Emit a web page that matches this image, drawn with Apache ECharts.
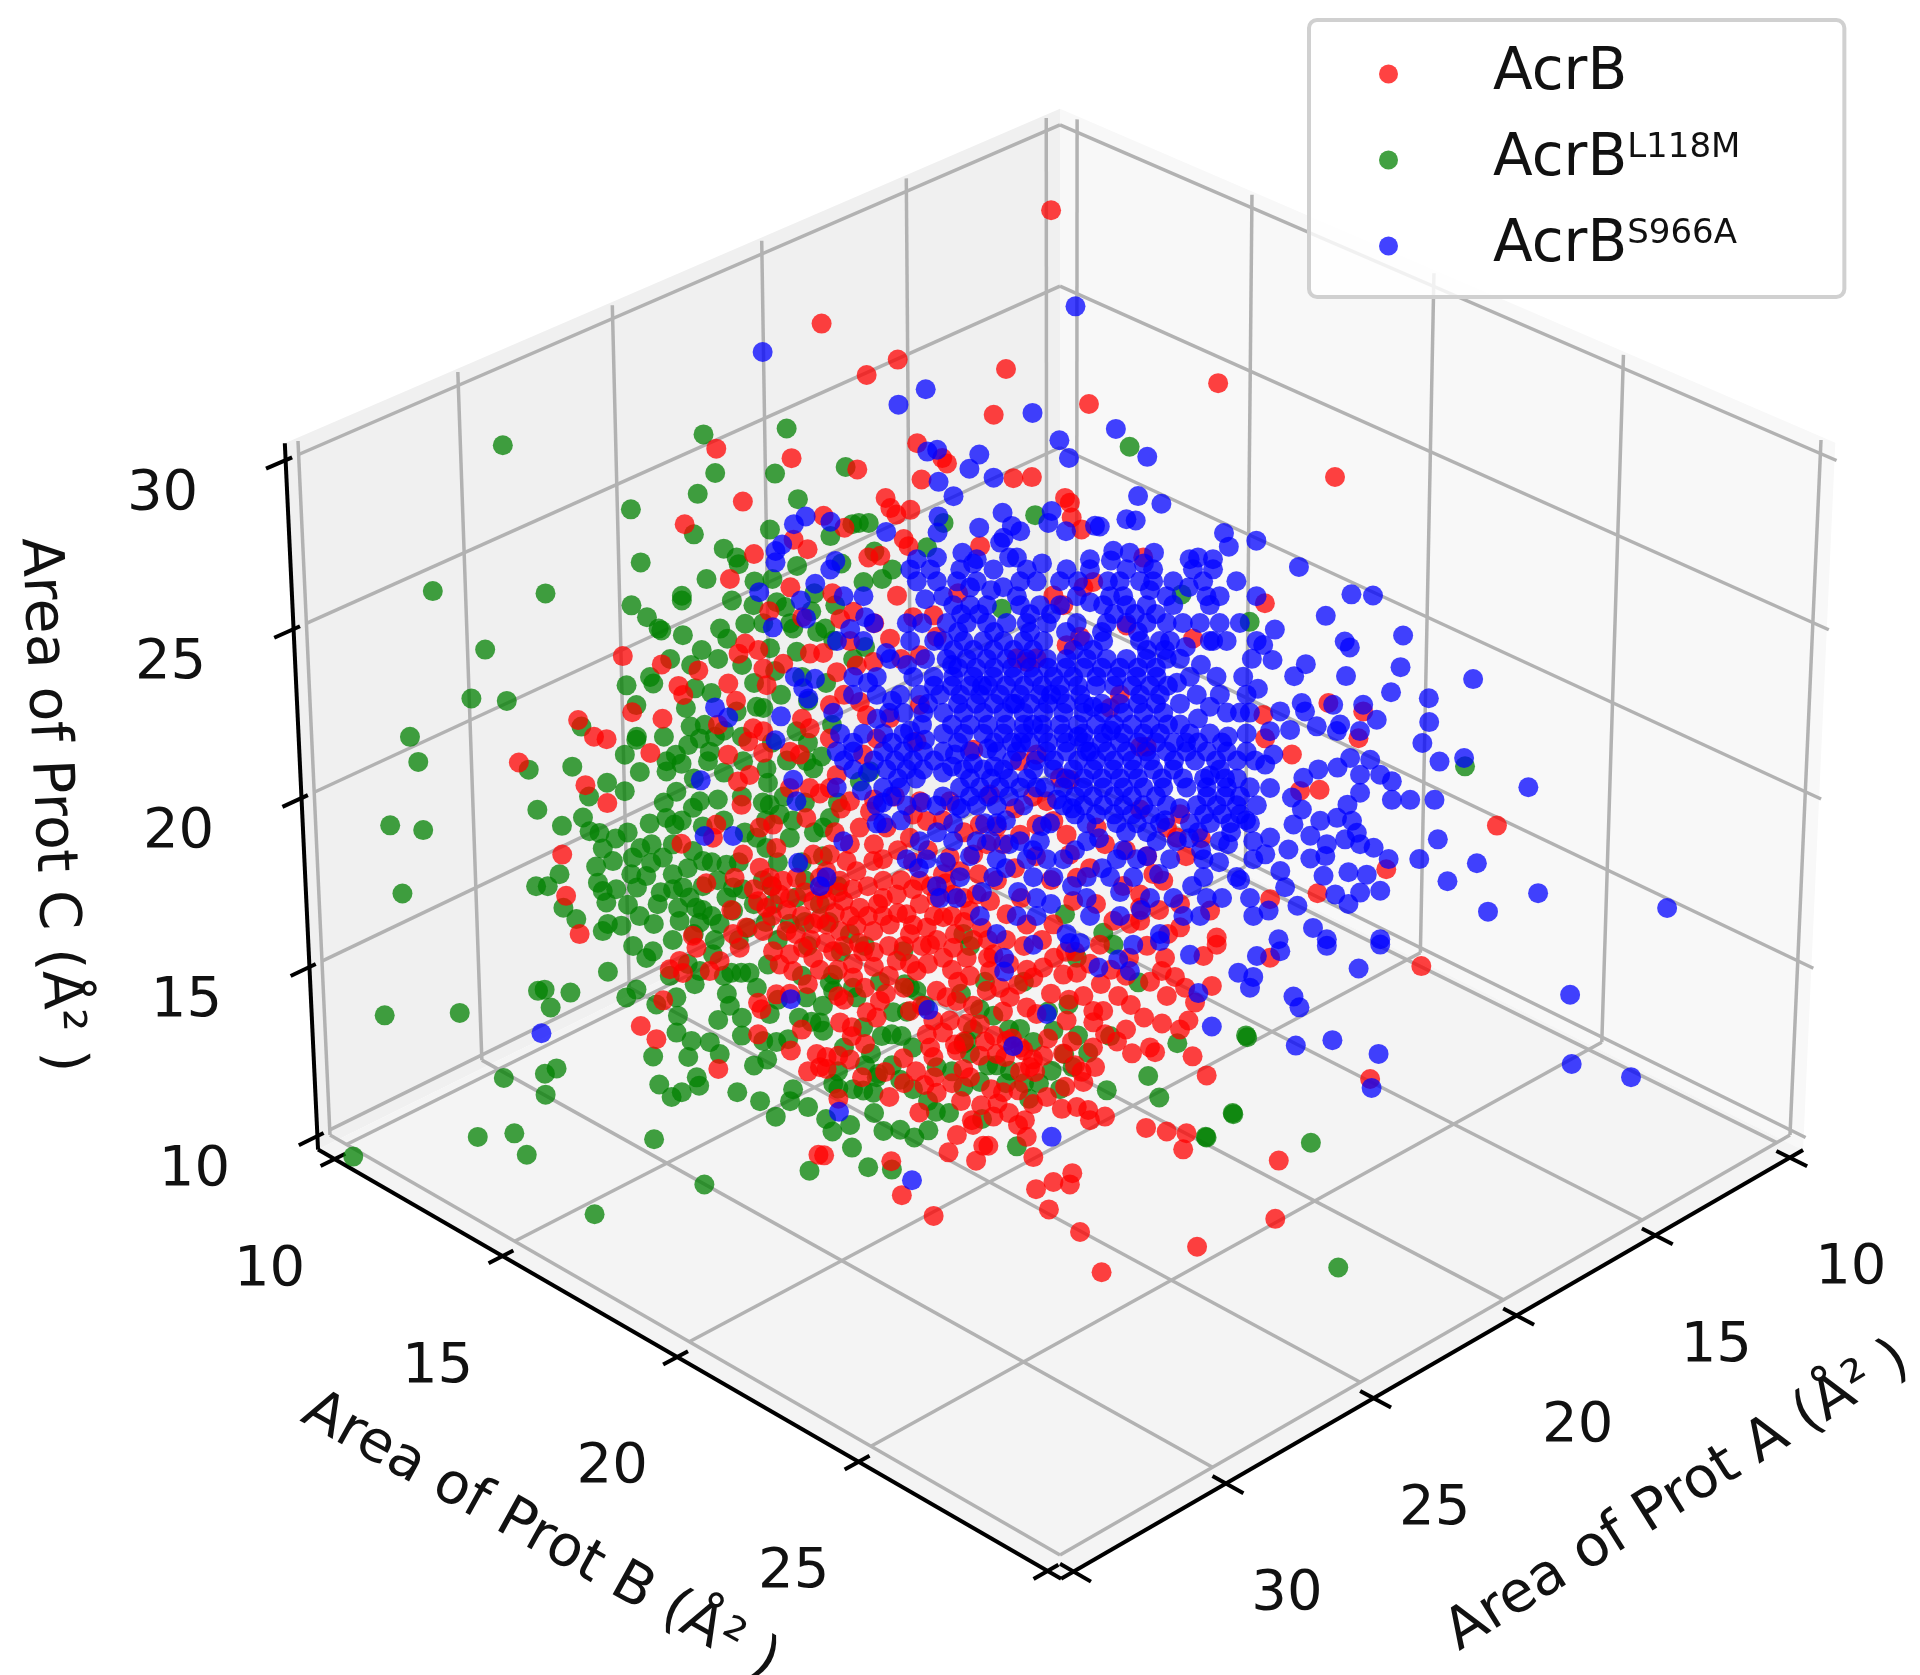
<!DOCTYPE html>
<html><head><meta charset="utf-8"><style>html,body{margin:0;background:#fff}#c{width:1920px;height:1675px}</style>
<script src="https://cdn.jsdelivr.net/npm/echarts@6/dist/echarts.min.js"></script></head><body><div id="c"></div>
<script>
// The picture is a single 3-D projection, so only two numbers can be read per point:
// [sideways position across the view in Å² (B-A direction), Prot C area in Å²].
// Depth along the line of sight is not recoverable; points sit on one surface facing the viewer.
const acrbL118M=[[-18.64,25.89],[-20.93,23.44],[-17.17,23.4],[-19.17,22.46],[-19.62,21.64],[-18.44,21.6],[-21.66,21],[-21.38,20.58],[-22.31,19.52],[-21.21,19.44],[-21.9,18.38],[-22.5,16.34],[-20,16.38],[-23.58,13.97],[-19.42,14.3],[-18.2,14.36],[-17.79,14],[-15.54,13],[-11.87,13.5],[-13.54,14.26],[-8.36,13.73],[-6.4,13.79],[9.3,12.1],[8.37,14.2],[4.86,14.3],[5.76,14.7],[6.2,16],[13.5,20.5],[2.33,25.86],
[-9.15,26.17],[-11.93,26.07],[-11.53,25.42],[-9.53,25.41],[-12.11,25.07],[-14.34,24.81],[-8.76,24.98],[-12.23,24.39],[-9.69,24.47],[-11.23,24.15],[-14,23.92],[-10.8,24],
[-14.3,23.2],[-13.78,23],[-13.39,22.81],[-13.3,22.78],[-12.58,22.7],[-11.95,22.45],[-11.8,23.64],[-12.62,23.36],[-12.62,23.28],[-10.95,23.28],[-11.34,22.81],[-11.1,22.64],[-10.5,22.89],[-10.73,23.89],[-9.45,23.25],[-9.17,23.17],[-10.23,23.2],[-9.6,23.64],[-8.78,23.86],[-8.9,22.81],[-8.1,22.75],[-9.67,22.48],[-8.78,22.42],[-14.45,21.86],[-13.67,22],[-13.56,21.89],[-14.12,21.53],[-12.17,21.81],[-11.62,21.73],[-12.47,21.48],[-10.78,21.42],[-10.11,21.5],[-9.89,21.48],[-13.2,21],[-14.1,21],[-14.12,20.95],[-12.31,21.17],[-11.84,21.2],[-11.5,21],[-12.39,20.86],[-12,20.97],[-11.67,20.75],[-11.73,20.59],[-14.5,20.7],[-13.11,20.59],[-12.61,20.55],[-13.11,20.42],[-14,20.41],[-16.25,20.5],[-17.7,20.45],[-15.95,21.17],[-15.09,20.23],[-14.5,20.09],[-15.69,20],[-12.78,20.08],[-12.23,19.81],[-11.4,19.95],[-12,19.92],[-10.56,20.59],[-9.78,20.47],[-9.73,20.23],[-8.45,20.59],[-8.22,20.47],[-8.78,21.09],[-17.41,19.78],[-16.59,19.51],[-15.89,19.65],[-15.67,19.42],[-15.34,19.39],[-13.67,19.55],[-13.11,19.64],[-12.84,19.53],[-15.23,19.13],[-14.89,18.92],[-15.45,18.83],[-14.23,18.98],[-13.98,19.14],[-13.23,18.98],[-13.62,18.89],[-14.28,18.7],[-13.78,18.67],[-16.67,18.7],[-17.45,18.5],[-17.06,18.5],[-15.39,18.56],[-15.23,18.42],[-14.78,18.45],[-14.09,18.48],[-15.11,18.23],[-14.39,18.19],[-16.54,18.14],[-16.11,17.95],[-13.53,17.87],[-15.06,17.87],[-15.23,17.75],[-14.61,17.84],[-11.89,18.92],[-12.23,19.09],[-11.11,18.86],[-12.56,18.48],[-12.89,18.45],[-12.34,18.31],[-12.72,18.14],[-12.12,18.14],[-12.67,17.92],[-12,17.89],[-10.89,18.48],[-10.56,18.45],[-11.11,18.31],[-10.89,18.09],[-11.34,17.87],[-10.11,19.31],[-9.67,19.86],[-9,19.31],[-9.34,19.7],[-9.78,19.14],[-8.78,18.31],[-9,17.87],[-9.56,18.2],
[-15.06,17.07],[-17.17,16.77],[-17.39,16.75],[-16.31,16.72],[-16.97,16.47],[-14.45,16.64],[-14.11,16.77],[-13.78,17.3],[-13.56,17.41],[-14.22,17.5],[-13.45,16.52],[-12.78,16.64],[-12.73,16.33],[-11.39,16.26],[-12.78,16.05],[-12.28,15.91],[-11.67,15.89],[-11.34,15.69],[-12.39,15.64],[-13.56,15.65],[-12.11,15.3],[-12.03,15.16],[-12.61,15.05],[-12.95,14.97],[-13.36,15.18],[-10.76,15.05],[-9.48,14.64],[-9.76,15.6],[-9.89,15.91],[-9.45,15.89],[-9.06,15.94],[-9.67,16.36],[-8.28,16.23],[-8,16.22],[-10.95,17.05],[-10.62,17.05],[-10.34,17.05],[-12.17,16.86],[-12,17.08],[-11.56,17.36],[-9.73,17.19],[-8.45,16.64],[-18.54,15.29],[-16.78,15.45],[-17.17,15.36],[-17.15,15.01],
[-6.94,14.12],[-7.59,14.39],[-5.61,13.75],[-5.89,14.4],[-5.33,14.42],[-4.86,14.29],[-4.39,14.41],[-4.14,14.72],[-6.56,15.08],[-6.22,15.04],[-5.33,15.26],[-6.06,15.36],[-6.11,15.3],[-7.56,15.19],[-7.39,15.11],[-4.11,15.47],[-3.22,15.14],[-2.67,15.22],[-2.11,15.5],[-1.67,15.41],[-1.03,14.94],[-1.44,14.14],[-0.28,15.41],[0.14,15.69],[0.42,15.47],[0.94,15.71],[1.56,15.08],[2.94,15.32],[3.31,14.96],[3.91,15.87],[5.78,14.68],[4.89,14.29],[6.24,15.97],[2.61,16.89],[1.67,15.99],[0.28,16.52],[-0.22,16.08],[-1.33,16.11],[-0.89,15.89],[-2.22,16.33],[-2.67,16.44],[-3.11,15.91],[-3.22,15.86],[-5.61,16.02],[-5.94,15.99],[-5.28,15.99],[-5.56,16.39],[-6.56,16.14],[-7.67,16.89],[-7.56,17.02],[-7.56,16.75],[-6.78,16.64],[-5,16.8],[-4.78,16.75],[-5.17,16.86],[0.56,17.3],[1.78,17.52],[-3,17.5],[-5.22,17.41],[-7.89,16.08],
[-7.17,25.52],[-6.94,24.56],[-6.72,24.58],[-6.39,24.58],[-7.67,24.36],[-4.44,24.17],[-3.89,24.58],[-0.83,24.71],
[-5.94,23.64],[-6.56,23.59],[4.06,23.38],[-1.94,23.14],[-7.83,22.81],[-7.56,22.61],[-7.94,20.67],[-6.33,20.42],[-6.67,20.25],[-7.89,19.48],[-7.67,19.64],[1.44,17.72],[0.17,18.03],[-3.22,17.7],[6.33,22.92],
[-13,22.3],[-12.3,22.2],[-11.4,22.3],[-10.6,22.2],[-9.5,22.1],[-8.6,22],[-10.2,21.9],[-9.3,21.7],[-8.4,21.6],[-7.8,21.9],[-11.2,21.1],[-10.6,21],[-9.6,20.9],[-9.1,20.6],[-8.4,20.9],[-7.6,21.2],[-12.8,20.7],[-12.2,20.3],[-11.2,20.4],[-10.6,20],[-9.9,19.9],[-9.2,20],[-8.5,19.9],[-7.4,19.9],[-13.2,19.9],[-12.6,19.6],[-11.9,19.5],[-11.2,19.6],[-10.5,19.4],[-9.8,19.6],[-8.9,19.6],[-8.2,19.4],[-14.8,19.3],[-14.4,19.4],[-13.6,19.2],[-12.9,19.2],[-12.4,18.8],[-11.6,18.9],[-10.7,18.9],[-9.9,18.6],[-9.4,18.9],[-8.6,18.9],[-7.9,19],[-13.3,18.4],[-12.9,18.7],[-11.9,18.5],[-11.4,18.6],[-10.2,18.2],[-9.6,18.5],[-8.5,18.6],[-8,18.2],[-7.4,18.5],[-14,18],[-13.4,18.2],[-11.9,18.1],[-11.6,18],[-10.4,17.8],[-9.8,17.9],[-8.5,17.9],[-7.7,17.9],[-7,17.7],[-12.9,17.6],[-12.2,17.7],[-11.5,17.6],[-10.7,17.6],[-9.4,17.6],[-8.4,17.5],[-7.3,17.4],[-6.5,17.5],[-13,17],[-12.4,17.2],[-11.2,17],[-10.1,16.8],[-9.4,16.6],[-8.6,17],[-7.9,16.5],[-6.9,16.8],[-6,16.9],[-5.1,16.4],[-4.5,16.5],[-3.3,16.7],[-2.5,16.9],[-1.2,16.9],[-11,16.5],[-10.6,16],[-8.7,16.3],[-7.2,15.8],[-6.5,15.5],[-4.9,15.8],[-3.6,15.4],[-1.7,16.1],[-0.4,16.4],[0.6,16],[-2.9,16.1],
[-7.4,15.4],[-6.9,15.1],[-6.3,15.7],[-5.6,15.5],[-4.9,15.1],[-4.4,14.9],[-3.7,14.7],[-3,15.7],[-2.4,15.5],[-1.8,15.2],[-1.2,15.2],[-0.7,15.2],[0,15.1],[-2.6,14.6],[-8.9,15.1],[-8.4,14.8],[-7.8,14.6],[-10.2,15.5],[-10.6,16.3],[-11.1,16.7],[-9,14.9],[-7,14.5],[-6.2,14.7],[-10,14.9],[-10.2,23.6],[-9.9,22.9],[-9,22.9],[-8.3,23.1],[-7.5,23.2],[-6.9,22.3],[-6.5,22.5],[-8.2,23.4],[-7.3,23.9],[-6.2,24.1],[-5.6,23.8]];

const acrb=[[-0.3,29.86],[-8,27.94],[-5.44,27.33],[-6.48,27.07],[-1.81,27.17],[-2.22,26.4],[0.97,26.58],[5.3,26.93],[-4.78,25.92],[-3.78,25.58],[-3.94,25.67],[-6.78,25.48],[-4.63,25.31],[-1.56,25.33],[-0.94,25.35],[-5.83,25],[-5.67,24.83],[-5.47,24.72],[0.17,25],[0.33,24.92],[0.39,24.67],[0.72,24.47],[-5.22,24.31],[-5.06,24.19],[-6,24.03],[-2.67,24.19],[2.78,24],[9.2,25.35],
[-11.5,25.83],[-8.98,25.67],[-10.6,24.94],[-12.54,24.56],[-10.22,24.06],[-8.43,24.14],
[-11.02,23.64],[-9,23.5],[-14.58,22.35],[-13.28,22.21],[-12.06,22.11],[-11.06,21.89],[-12.72,21.85],[-12.56,21.7],[-14.26,21.41],[-13.25,21.3],[-16.06,21.28],[-15.53,21],[-15.11,20.96],[-13.65,20.73],[-18.03,20.57],[-15.81,20.19],[-15.08,19.89],[-10.5,22.56],[-10.72,22.39],[-10.06,22.45],[-9.89,22.14],[-9.78,21.86],[-8.34,22.39],[-9.23,22.22],[-10.23,21.14],[-10.39,20.92],[-9.89,21.09],[-9.89,20.73],[-11.06,20.7],[-9,20.75],[-8.67,20.7],[-8.34,21.14],[-10.34,20.36],[-10.73,20.25],[-9,20.14],[-8.34,20.14],[-10.61,19.86],[-8.45,19.64],[-9.56,19.53],[-10,19.48],[-11.45,19.53],[-11.56,19.31],[-12.61,19.21],[-10.56,19.03],[-9.45,19.14],[-10,18.81],[-9.67,18.64],[-9.23,18.59],[-8.78,18.64],[-8.22,19.03],[-8,18.64],[-9.34,18.36],[-8.22,18.25],[-11.78,18.55],[-10.84,18.64],[-10.06,18.25],[-9.78,18.14],[-10.95,18.1],[-16.58,19.03],[-16.45,18.34],[-16,17.7],[-10.45,17.81],[-9.89,17.75],[-10.89,17.7],[-9.11,17.75],[-12.23,17.67],[-8.22,17.87],
[-7.67,19.03],[-7.11,18.92],[-7.78,18.75],[-7.33,18.59],[-6.78,18.75],[-6.22,18.92],[-5.89,18.59],[-5.44,18.36],[-7.78,18.25],[-7.22,18.25],[-6.67,18.14],[-6.06,18.2],[-7.78,17.86],[-7.33,17.75],[-6.78,17.84],[-6.22,17.75],[-5.67,17.86],[-5.11,18.03],[-4.67,18.2],[-4.44,17.81],[-3.89,17.98],[-5,17.7],[-4.11,18.31],[-3.56,18.36],[-4.67,18.59],[-3.33,18.75],[-3.67,18.98],[-2.89,19.03],[-2.44,19.2],[-1.89,19.2],[-1.33,19.36],[-0.78,19.53],[-0.22,19.59],[0.22,19.36],[0.33,19.03],[0.56,18.64],[-0.22,17.86],[-1.11,17.86],[-1.78,18.03],[-2.33,18.25],[-3,18.09],[-2.78,18.36],[0.44,18.25],[1.78,17.92],[2.33,17.87],[2.67,17.92],[2.67,18.14],[3.11,18.7],[3.44,18.59],[3.89,19.31],[3.56,19.48],[4,19.7],[1.22,19.48],[2.67,19.78],[0,20.31],[0.33,20.28],[-2.89,20.78],[-1.33,20.59],[-0.78,20.7],[-4.67,21.53],[-4.78,20.92],[2.67,20.83],[2.89,20.83],[2,21.7],[1.67,21.48],[-1.11,22.25],[-1.44,22.31],[-0.78,22.31],[4.44,22.64],[0.22,22.53],[0.67,22.67],[2.22,22.86],[-0.22,23.36],[0.11,23.2],[1.11,23.59],[0.78,23.5],[-4.11,22.67],[-4.22,23.03],[-5.44,23.36],[-6.89,23.09],[-7.33,22.97],[-5.67,22.64],[-4.67,22.36],[-6.22,22.25],[-6.78,22.19],[-7.44,22.08],[-7.67,21.53],[-6.67,21.58],[-6.44,21.36],[-5.67,21.31],[-6.11,20.97],[-7.67,20.97],[-6.56,20.7],[-7.44,20.36],[-7.67,20.14],[-7,19.92],[-6.33,19.75],[-6.67,19.48],[-5.78,19.48],[-4.67,19.92],[-4.44,19.59],[-5,19.31],[-3.67,19.92],[-2.67,19.53],[-2.33,20.03],[-0.44,19.92],[5.22,17.64],[5,18.09],[4,18.2],[4,17.81],[2.67,18.36],
[7.73,20.7],[8.65,20.11],[8,20.09],[6.84,23.23],[8.95,21.56],[14.56,19.51],[10.87,18.78],[8.58,18.38],[7,18.28],[10.11,21.42],[9.95,20.97],[6.78,21.36],[6.84,20.97],[12.04,17.16],[10.34,15.27],[7.3,13.9],[7.19,12.92],[7,17.3],
[1.39,12.02],[4.58,12.45],[0.67,12.7],[-0.37,13.08],[-4.22,12.97],[-5.28,13.32],[-0.8,13.42],[-0.22,13.54],[0.41,13.69],[0.33,13.5],[-0.89,13.96],[-1.11,14.3],[-1.17,14.58],[-2.8,13.9],[-3.72,14.04],[-3.44,14.33],[-2.56,14.15],[-2.39,14.15],[-2.94,14.58],[-2.22,14.64],[-2.63,14.83],[-2.08,14.86],[-4.69,14.71],[-4.11,15.04],[-4.52,15.17],[-5.69,14.97],[-5.63,13.89],[-7.87,13.99],[-7.39,14.94],[-5.83,15.39],[-5.22,15.62],[-6.5,15.86],[-6.94,15.99],[-7.39,15.66],[-7.78,15.64],[-7.78,15.44],[-3.22,15.44],[-3,15.3],[-1.39,15.08],[-0.44,14.97],[0.06,14.77],[0.56,14.8],[0.94,14.75],[1,14.58],[1.5,14.64],[0.17,15.14],[0.78,15.22],[0.72,15.39],[1.17,15.47],[-1,15.47],[-1.33,15.39],[-0.83,15.39],[-0.56,15.66],[-2.67,15.66],[-2.67,16.19],[-3.44,15.75],[-4.33,15.8],[-4.22,15.64],[-4.44,16.02],[-4.22,16.25],[-3.67,16.25],[-3.78,16.64],[-4.11,16.75],[-3.44,16.58],[-5,16.41],[-6,16.58],[-6.44,16.39],[-6.11,16.3],[-7.33,16.22],[-6.94,16.14],[-7.39,16.66],[-6.89,16.97],[-7.56,17.41],[-6.56,17.41],[-5.44,17.25],[-4.78,17.08],[-3.89,17.3],[-4.33,17.52],[-3.56,17.47],[-3.11,17.3],[-2.33,17.08],[-2.44,16.75],[-2,16.8],[-1.67,16.64],[-2.22,17.36],[-0.89,16.97],[-0.56,17.14],[0.11,17.02],[0.56,17.05],[-1.11,16.47],[-0.78,16.36],[0.22,16.25],[0.78,16.66],[1.11,16.41],[1.44,16.41],[1.11,16.22],[1.5,16.02],[1.36,16.86],[1.94,16.66],[2.36,16.51],[3.39,17.08],[3.83,16.98],[3.56,16.66],[4.17,16.8],[5.06,16.83],[4.5,16.55],[4.28,16.25],[3,15.8],[3.17,15.72],[4.42,15.65],[4.89,15.33],[2.87,14.45],[3.56,14.39],[4.22,14.36],[4.11,14.09],[4.78,17.33],[5.22,17.52],[1.33,17.52],[-1.33,15.8],[-1.78,15.91],[-1.22,15.75],[-2.11,15.69],[-1.83,15.64],
[-13.22,16.59],[-13.97,16.16],[-13.45,15.94],[-11.39,15.44],[-10.06,16.02],[-9.95,16.44],[-10.06,16.55],[-9.45,16.69],[-8.97,15.75],[-8.06,14],[-8.4,16.86],[-8.11,15.69],[-8,15.47],[-13,17.11],[-12.56,17.05],[-12.67,17.25],[-12.11,17.47],[-11.67,17.08],[-11.34,17.25],[-10.67,17.47],[-9.34,17.19],[-9,17.36],[-8.56,17.47],[-9.56,17.41],[-8.22,17.3],[-8.89,17.08],
[-10.2,18.45],[-9.6,18.5],[-9,18.3],[-8.5,18.4],[-7.9,18.45],[-7.4,18.4],[-6.9,18.45],[-6.4,18.5],[-5.9,18.3],[-5.3,18.6],[-4.9,18.45],[-4.3,18.5],[-3.8,18.55],[-3.2,18.3],[-9.6,18],[-9.1,18.1],[-8.6,18],[-8,17.95],[-7.5,18.05],[-7,18],[-6.4,18],[-5.9,18],[-5.4,18.05],[-4.9,17.85],[-4.2,18],[-3.6,18],[-3.2,17.9],[-2.6,17.8],[-8.8,17.7],[-8.3,17.6],[-7.8,17.55],[-7.2,17.5],[-6.7,17.55],[-6.2,17.4],[-5.7,17.5],[-5.2,17.5],[-4.6,17.5],[-4.1,17.6],[-3.5,17.7],[-2.9,17.6],[-2.4,17.6],[-1.8,17.6],[-1.2,17.5],[-0.6,17.6],[0.2,17.4],[1,17.2],[-8,17.1],[-7.4,17.1],[-6.9,17.2],[-6.2,17.15],[-5.7,17],[-5,17.2],[-4.4,17.2],[-3.6,17.1],[-3,17],[-2.4,17.3],[-1.7,17.2],[-1.1,17.1],[-0.2,17.3],[0.5,17.4],[1.7,17.1],[2.3,17.3],[2.9,17.5],[3.5,17.3],[-5.2,16.8],[-4.6,16.5],[-3.4,16.9],[-2.9,16.5],[-1.4,16.85],[-0.3,16.7],[0.3,16.6],[-1.9,16.4],[-3.1,16.2],[-2.2,16],[-0.4,15.95],[0.4,15.9],[-3.9,16.05],[-3.5,15.85],[-8,20.05],[-7.3,19.8],[-6.2,19.95],[-5.5,20],[-4.9,19.7],[-3.9,19.6],[-3.2,19.4],[-2.1,19.5],[-1.5,19.8],[-0.9,20],[-5.4,19.1],[-4.4,19.1],[-6.2,19.2],[-7,19.2],[-7.5,19.4],[-5.9,18.95],[-4.9,18.9],[-3.9,18.7],[-2.7,18.7],[-2.1,18.6],[-1.5,18.8],[-0.8,19],[-1.3,18.3],[-0.3,18.6],[1,18.8],[1.5,19.2],[2.2,19.1],[1.2,18.2],[2.1,18.5],[3.3,18.1],[2.9,19],[4.2,19],[4.7,19.3],[3.6,17.7],[-8.6,23],[-7.6,23.4],[-7,22.6],[-6.2,22.9],[-5.3,22.3],[-4.9,23],[-3.4,23.4],[-7.9,22.4],[-8.6,21.3],[-7.2,21.7],[-10.8,21.6],[-11.4,21.2],
[-7.2,16.6],[-6.5,16.8],[-5.8,16.7],[-3.2,15.9],[-2.5,15.9],[-1.6,15.95],[-0.9,15.6],[0.1,15.7],[0.5,15.5],[1.1,15.8],[1.9,15.9],[2.4,15.7],[-4.8,15.4],[-4.2,15.3],[-3.6,15.2],[-2.3,15.1],[-1.9,15.05],[-0.9,14.85],[-5.2,15.2],[-6.6,15.3],[-7,15.6],[-3.3,14.9],[-2.9,14.5],[-1.7,14.7],[-1.4,14.5],[2.2,16.1],[2.8,16.3],[3.4,16.2],[4,16.1],[3,16.9],[2.2,17],[-8.4,15.4],[-9,16.7],[-8.6,16.1],[-9.7,23.1],[-8.9,24.3],[-7.9,24.7],[-7.2,24.5],[-6.4,24],[-5,24.8]];

const acrbS966A=[[0.52,28.23],[-4.5,26.83],[-5.41,26.57],[-0.92,26.43],[1.87,26.16],[-0.02,25.97],[2.92,25.69],[0.3,25.67],[-4.44,25.78],[-4.11,25.81],[-2.7,25.73],[-3.03,25.49],[-2.22,25.34],[-4.06,25.27],[-3.56,25.03],[2.61,25.03],[3.39,24.9],[5.48,24.41],[5.64,24.18],[6.56,24.28],[2.22,24.64],[2.53,24.62],[1.33,24.52],[1.17,24.53],[-1.92,24.75],[-2.7,24.5],[-0.28,24.78],[-0.39,24.58],[0.2,24.44],[-1.61,24.53],[-1.33,24.44],[-1.89,24.33],[-2,24.25],[-4.06,24.69],[-4.09,24.42],[-5.81,24.43],[-7.67,24.6],[-3.26,24.08],[1.78,24.11],[2.33,24.08],[3.14,24.08],[-2.78,23.97],[-1.44,24],[1,23.97],[4.33,23.97],[4.61,24],[5.11,23.97],[-4.11,24],[-4.78,23.97],[-7.5,23.94],
[-9.97,27.46],[-8.5,24.69],[-8.89,24.56],[-9.28,24.22],[-9.5,24.11],
[-7.67,23.8],[-5,23.8],[-4.33,23.8],[-3.33,23.8],[-2.22,23.8],[-1.11,23.8],[0.22,23.8],[1,23.8],[2.22,23.8],[3.11,23.8],[4.44,23.8],[5.11,23.8],
[-4.78,23.6],[-4.11,23.6],[-3.44,23.6],[-2.78,23.6],[-1.33,23.6],[-0.78,23.6],[2,23.6],[2.67,23.6],[3.11,23.6],[3.78,23.6],[4.78,23.6],[5.89,23.6],
[-7.22,23.35],[-6.56,23.35],[-1.44,23.35],[0.56,23.35],[1.67,23.35],[2.11,23.35],[3.56,23.35],[4.89,23.35],[5.33,23.35],[6.56,23.35],
[-3.56,23.2],[-3,23.2],[-2.44,23.2],[-1.33,23.2],[-0.67,23.2],[0,23.2],[1.44,23.2],[2.22,23.2],[2.89,23.2],[3.78,23.2],[5,23.2],
[-6.22,22.9],[-5.11,22.9],[-3.78,22.9],[-3.11,22.9],[-2.44,22.9],[-1.78,22.9],[-1.11,22.9],[-0.44,22.9],[0.56,22.9],[1.56,22.9],[2.22,22.9],[2.89,22.9],[3.56,22.9],[4.67,22.9],[5.33,22.9],[6,22.9],
[-7.44,22.6],[-6.56,22.6],[-5,22.6],[-3.89,22.6],[-3.22,22.6],[-2.56,22.6],[-1.89,22.6],[-1.22,22.6],[-0.56,22.6],[0.78,22.6],[1.44,22.6],[2.67,22.6],[3.33,22.6],[3.67,22.6],[5.11,22.6],[5.56,22.6],[6.56,22.6],
[-5.67,22.3],[-3.78,22.3],[-3.11,22.3],[-2.44,22.3],[-1.78,22.3],[-1.11,22.3],[-0.44,22.3],[0.22,22.3],[0.89,22.3],[1.56,22.3],[2.22,22.3],[2.89,22.3],[3.56,22.3],[4,22.3],
[-6.89,22],[-6.11,22],[-4.89,22],[-4.22,22],[-3.56,22],[-2.89,22],[-2.22,22],[-1.56,22],[-0.89,22],[-0.22,22],[0.44,22],[1.22,22],[1.89,22],[2.56,22],[3.22,22],[4.33,22],[5.22,22],[6.11,22],
[-6.11,21.7],[-5.33,21.7],[-4.67,21.7],[-4,21.7],[-3.33,21.7],[-2.67,21.7],[-2,21.7],[-1.33,21.7],[-0.67,21.7],[0,21.7],[0.67,21.7],[2.67,21.7],[3.33,21.7],[4.56,21.7],[5.33,21.7],[6.22,21.7],
[-7.56,21.4],[-5.22,21.4],[-4.56,21.4],[-3.89,21.4],[-3.22,21.4],[-2.56,21.4],[-1.89,21.4],[-1.22,21.4],[-0.56,21.4],[0.11,21.4],[0.78,21.4],[1.44,21.4],[2.11,21.4],[2.78,21.4],[3.44,21.4],[5.56,21.4],[6.33,21.4],
[-7.33,21.05],[-6.56,21.05],[-5.89,21.05],[-5.22,21.05],[-3.89,21.05],[-3.22,21.05],[-2.56,21.05],[-1.89,21.05],[-1.22,21.05],[-0.56,21.05],[0.11,21.05],[0.78,21.05],[1.44,21.05],[2.11,21.05],[2.78,21.05],[3.33,21.05],[4.33,21.05],[5,21.05],[6.22,21.05],
[-7.44,20.75],[-6.89,20.75],[-5.89,20.75],[-5.22,20.75],[-4.56,20.75],[-3.89,20.75],[-2.11,20.75],[-1.44,20.75],[-0.44,20.75],[0.22,20.75],[0.89,20.75],[1.56,20.75],[2.22,20.75],[2.89,20.75],[3.56,20.75],[4.22,20.75],[4.89,20.75],[5.56,20.75],[6.22,20.75],
[-6.89,20.45],[-5.78,20.45],[-5.11,20.45],[-4.56,20.45],[-3.22,20.45],[-2.56,20.45],[-1.89,20.45],[-0.89,20.45],[-0.22,20.45],[0.44,20.45],[1.11,20.45],[1.78,20.45],[2.44,20.45],[3.11,20.45],[3.78,20.45],[5.33,20.45],
[-7.44,20.15],[-5.89,20.15],[-5.33,20.15],[-3.33,20.15],[-2.67,20.15],[-2,20.15],[-1.33,20.15],[-0.78,20.15],[0.11,20.15],[0.78,20.15],[1.44,20.15],[2.11,20.15],[2.78,20.15],[3.44,20.15],[4.22,20.15],[4.89,20.15],[5.56,20.15],[6.33,20.15],
[-6.11,19.85],[-5.11,19.85],[-4.11,19.85],[-3.44,19.85],[-2.78,19.85],[-2.11,19.85],[-1.22,19.85],[0.11,19.85],[0.78,19.85],[1.44,19.85],[2.11,19.85],[2.78,19.85],[3.56,19.85],[4.56,19.85],[5.22,19.85],[5.89,19.85],[6.56,19.85],
[-6.11,19.55],[-5.89,19.55],[-3.56,19.55],[-2.11,19.55],[-0.33,19.55],[0.89,19.55],[1.89,19.55],[2.56,19.55],[3.33,19.55],[4.33,19.55],[5,19.55],[5.67,19.55],[6.33,19.55],
[-7.22,19.25],[-4.67,19.25],[-3.56,19.25],[-2.78,19.25],[-1.33,19.25],[-0.67,19.25],[0.89,19.25],[3.22,19.25],[3.89,19.25],[5.33,19.25],[6.44,19.25],
[-5.11,18.95],[-4.44,18.95],[-2.11,18.95],[-1.11,18.95],[-0.44,18.95],[0.11,18.95],[1.89,18.95],[2.56,18.95],[3.67,18.95],[4.78,18.95],[6.44,18.95],
[-7.78,18.65],[-3.33,18.65],[-2.22,18.65],[-0.89,18.65],[-0.22,18.65],[0.89,18.65],[1.67,18.65],[2.44,18.65],[4.78,18.65],[5.89,18.65],
[-4,18.3],[-3.44,18.3],[-0.78,18.3],[0.89,18.3],[3,18.3],[3.78,18.3],[4.89,18.3],[6.33,18.3],
[-2.67,18],[-1.44,18],[-0.78,18],[1,18],[2,18],[4.11,18],[4.67,18],[6.44,18],[-2.11,17.7],[0.22,17.7],[3.33,17.7],
[-3.4,22.75],[-2.2,22.75],[-1,22.75],[0.2,22.75],[1.4,22.75],[2.6,22.75],[-3.4,22.15],[-2.2,22.15],[-1,22.15],[0.2,22.15],[1.4,22.15],[2.6,22.15],[-3,21.85],[-1.8,21.85],[-0.6,21.85],[0.6,21.85],[1.8,21.85],[3,21.85],[-3.4,21.55],[-2.2,21.55],[-1,21.55],[0.2,21.55],[1.4,21.55],[2.6,21.55],[-3,21.2],[-1.8,21.2],[-0.6,21.2],[0.6,21.2],[1.8,21.2],[3,21.2],[-1,20.9],[0.2,20.9],[1.4,20.9],[2.6,20.9],[0.6,20.6],[1.8,20.6],[3,20.6],[0.2,20.3],[1.4,20.3],[2.6,20.3],
[-3.3,23.05],[-2.7,23.05],[-1,23.05],[-0.3,23.05],[1.8,23.05],[2.5,23.05],[3.2,23.05],[-3.55,22.45],[-2.89,22.45],[-2.22,22.45],[-1.55,22.45],[-0.9,22.45],[0.45,22.45],[1.1,22.45],[2.9,22.45],[3.5,22.45],[-2.8,22.15],[-1.6,22.15],[-0.4,22.15],[0.8,22.15],[2,22.15],[3.2,22.15],[-4.2,21.85],[-3.6,21.85],[-2.4,21.85],[-1.2,21.85],[0,21.85],[1.2,21.85],[2.4,21.85],[3.6,21.85],[-4.4,21.55],[-2.8,21.55],[-1.6,21.55],[-0.4,21.55],[0.8,21.55],[2,21.55],[3.2,21.55],[4,21.55],[-4.6,21.2],[-3.6,21.2],[-2.4,21.2],[-1.2,21.2],[0,21.2],[1.2,21.2],[2.4,21.2],[3.6,21.2],[4,21.2],[-5.6,20.9],[-4.9,20.9],[-3.4,20.9],[-2.2,20.9],[-1.6,20.9],[-0.4,20.9],[0.8,20.9],[2,20.9],[3.2,20.9],[3.8,20.9],[4.6,20.9],[5.4,20.9],[-5.5,20.6],[-4.9,20.6],[-4.2,20.6],[-0.2,20.6],[-0.8,20.6],[1.2,20.6],[2.4,20.6],[3.8,20.6],[4.5,20.6],[5.2,20.6],[5.9,20.6],[-5.4,20.3],[-4.8,20.3],[-3,20.3],[-2.3,20.3],[-1.7,20.3],[0.8,20.3],[2,20.3],[3.4,20.3],[4.1,20.3],[4.8,20.3],[5.5,20.3],[-5.6,20],[-3.9,20],[-3,20],[-2.4,20],[-1.7,20],[0.5,20],[1.1,20],[1.8,20],[2.4,20],[3.2,20],[4.9,20],[5.5,20],[6,20],[0.5,19.7],[1.2,19.7],[1.8,19.7],[2.4,19.7],[3,19.7],[4.8,19.7],[5.4,19.7],[6,19.7],[2.2,19.4],[2.9,19.4],[4.6,19.4],[5.7,19.4],[-7,22.8],[-6.5,23],[-6.9,21.7],[-6.1,21.3],[-5.7,21.4],[-6.4,20.4],[-7.2,20.6],
[-6.9,20.9],[-6.4,21.9],[-5.8,22.4],[-5.1,22.2],[-4.5,22.3],[-4.6,22.9],[-5.6,21.6],[-5,21.1],[-4.5,20.95],[-6.2,20.6],[-6.6,20.1],[-5.9,19.9],[-5.3,19.6],[-4.6,19.9],[-4.1,19.4],[-3.3,19.8],[-2.5,19.55],[-1.8,19.6],[-3.9,20.4],[-3.6,20.5],[-2.9,20.55],[-2.2,20.5],[-1.6,20.6],[-1.3,20.9],[-0.6,19.5],[-0.9,19.1],[-1.7,19.2],[-2.3,19.25],[-3,19],[-3.8,18.9],[-4.7,18.8],[-4.1,18.5],[-2.6,18.4],[-1.8,18.8],[-1.4,18.4],[-0.3,18.2],[0.5,19.1],[0.4,18.5],[1.3,19.3],[1.4,18.8],[2.1,19.1],[2.9,19],[3.3,18.7],[2,18.4],[2.7,18.1],[3.5,19.6],[4,19.8],[4.3,19.3],[4.7,19.1],[5.3,18.9],[5.6,19.2],[6,18.6],[6.2,19.6],[5.4,18.3],[4.4,18.5],[-3,23.5],[-2.3,23.45],[-1.9,23.5],[0,23.6],[0.6,23.6],[-3.9,23.35],[-4.5,23.3],[1,23.25],[1.6,23.6],[3,23.45],[4.3,23.5],[4.1,22.9],[4.2,22.5],[4.7,22.2],[5,22.6],[3.9,21.9],[4.6,21.3],[5,21.5],[5.6,21],[4.2,20.9],[5,20.35],[5.9,20.3],[6.5,20.6],[6,21.4],[6.6,21.8],[6.4,22.3],[-2.9,23.9],[-1.7,24],[-0.6,23.9],[1.7,23.95],[2.8,23.9],[1.1,21.5],[1.7,21.1],[1,20.75],[0.6,21],[-0.3,21.7],[-0.9,21.2],[-1.5,21.55],[-2.6,21.85],[-3.6,22.2],[-4.2,22.6],[-3,20.75],[-3.5,20.7],[-2.4,20.8],[-1.1,20.3],[-0.5,20.15],[-0.1,19.95],[0.4,19.8],
[7.98,23.84],[9.73,23.38],[10.45,23.36],[8.87,23.02],[7.17,22.79],[9.5,22.59],[9.67,22.49],[11.45,22.69],[6.78,22.53],[7.09,22.28],[8.2,22.21],[7.81,22.01],[9.54,22.01],[11.36,22.16],[13.78,21.96],[11.04,21.74],[12.3,21.64],[12.31,21.24],[12.08,20.89],[12.65,20.58],[13.47,20.64],[15.61,20.15],[8.06,21.56],[8.17,21.42],[9.11,21.53],[10.11,21.53],[7.34,21.42],[8.56,21.17],[9.34,21.2],[9.23,21.09],[10,21.09],[10.56,21.28],[7.67,21.11],[7,21.09],[7.11,20.7],[6.84,20.53],[7,20.14],[9.67,20.64],[10.34,20.61],[9.25,20.48],[8.61,20.45],[10,20.36],[8.11,20.31],[10.67,20.36],[11.06,20.25],[10,20.06],[11.06,19.94],[11.67,19.94],[12.48,19.94],[7.73,19.98],[9.58,19.86],[8.06,19.78],[9.23,19.64],[8.67,19.59],[9.73,19.59],[7.78,19.53],[8.34,19.34],[9.89,19.39],[7,19.31],[9.5,19.28],[8.89,19.2],[10,19.2],[10.45,19.14],[12.59,19.28],[7.61,19.11],[8.34,18.96],[8.84,19],[10.95,18.95],[11.97,18.95],[13.89,18.88],[8.78,18.67],[9.61,18.73],[10.22,18.69],[12.91,18.58],[7.34,18.75],[6.84,19.03],[7.5,18.48],[9.17,18.36],[10,18.39],[10.67,18.42],[15.93,18.38],[9.61,18.2],[7.91,18.17],[14.26,18.07],[20.23,18.13],[6.95,18.09],[8.43,17.8],[10.67,17.61],[7.28,17.61],[8.89,17.61],
[7.34,17.41],[8.89,17.5],[10.67,17.52],[9.95,17.12],[7.78,16.65],[7.98,16.47],[7.86,15.83],[9.08,15.92],[10.62,15.69],[10.39,15.12],[17,16.68],[17.06,15.52],[19.04,15.3],
[-4.94,13.57],[-0.28,14.3],[-7.37,14.72],[-1.56,15.82],[-0.44,16.36],[-4.39,16.43],[-1.86,17.3],[-1.86,17.07],[1.28,17.14],[1.94,17.27],[2.33,17.08],[4.61,16.71],[5.06,16.15],[4.33,17.35],[5.94,17.05],[6.33,16.8],[6.44,16.98],[6.56,17.33],[-0.89,17.52],[0.33,17.55],[0.67,17.55],[2.44,17.52],[3.33,17.58],
[-10.04,23.42],[-9.58,22.83],[-8.65,23.28],[-8.47,22.98],[-8.17,23.56],[-9.5,23.92],[-11.5,21.49],[-11.06,21.32],[-8.84,22],[-8.17,21.97],[-8.39,21.64],[-8.56,21.81],[-9.3,21.34],[-9.48,20.94],[-11.97,20.27],[-8.89,20.28],[-8.78,19.92],[-11.84,19.34],[-10.89,19.34],[-8.72,18.89],[-8,18.5],[-17.28,16.04],[-8.97,16.61]];

const seriesNames=['AcrB','AcrB L118M','AcrB S966A'];
const ticksA=[10,15,20,25,30,35], ticksB=[10,15,20,25,30], ticksC=[10,15,20,25,30];
const labelledA=[10,15,20,25,30], labelledB=[10,15,20,25], labelledC=[10,15,20,25,30];
const titleA='Area of Prot A (Å² )', titleB='Area of Prot B (Å² )', titleC='Area of Prot C (Å² )';

// Axis limits of the box
const Amin=9.5,Amax=35,Bmin=9.5,Bmax=30,Cmin=9.85,Cmax=30.4;
const Aout=35.4,Bout=30.35,Cout=9.6;
// Camera: where the box corners land on the page (back, left, front, right)
function homography(q){
  const [x0,y0,x1,y1,x2,y2,x3,y3]=q.flat();
  const dx1=x1-x2,dx2=x3-x2,sx=x0-x1+x2-x3,dy1=y1-y2,dy2=y3-y2,sy=y0-y1+y2-y3;
  const det=dx1*dy2-dx2*dy1,g=(sx*dy2-dx2*sy)/det,h=(dx1*sy-sx*dy1)/det;
  const a=x1-x0+g*x1,b=x3-x0+h*x3,d=y1-y0+g*y1,e=y3-y0+h*y3;
  return (u,v)=>{const w=g*u+h*v+1;return [(a*u+b*v+x0)/w,(d*u+e*v+y0)/w];};
}
const floorH=homography([[1060,775],[330,1135],[1060,1555],[1790,1135]]);
const topH=homography([[1060,112],[298,441],[1060,832],[1821,440]]);
function project(A,B,C){
  const u=(A-Amin)/(Amax-Amin),v=(B-Bmin)/(Bmax-Bmin),t=(C-Cmin)/(Cmax-Cmin);
  const p=floorH(u,v),q=topH(u,v);
  return [p[0]+(q[0]-p[0])*t,p[1]+(q[1]-p[1])*t];
}
// Place a [sideways, C] reading on a surface facing the viewer (its curve cancels the box perspective)
function toBox(sideways,C){
  const t=(C-Cmin)/(Cmax-Cmin);
  const bend=1.2245*(0.2113*(17.95-C)*(17.95-C)-2)/392;
  const s=1-1.375*(t-0.5)-bend,w=-sideways*30/746*(1+(C-20)*0.0034);
  return [Amin+(s+w)/2*(Amax-Amin),Bmin+(s-w)/2*(Bmax-Bmin),C];
}
const pts=list=>list.map(([d,c])=>{const b=toBox(d,c);return project(b[0],b[1],b[2]);});

const seg=(a,b)=>[...a,...b];
const gridSegs=[],blackSegs=[],tickLabels=[];
ticksA.forEach(a=>{
  gridSegs.push(seg(project(a,Bmin,Cmin),project(a,Bmin,Cmax)));
  gridSegs.push(seg(project(a,Bmin,Cmin),project(a,Bmax,Cmin)));
  const m=project(a,Bout,Cout);
  blackSegs.push(seg(project(a,Bout-0.35,Cout),project(a,Bout+0.45,Cout)));
  if(labelledA.includes(a)) tickLabels.push([m[0]+61,m[1]+111,String(a)]);
});
ticksB.forEach(b=>{
  gridSegs.push(seg(project(Amin,b,Cmin),project(Amin,b,Cmax)));
  gridSegs.push(seg(project(Amin,b,Cmin),project(Amax,b,Cmin)));
  const m=project(Aout,b,Cout);
  blackSegs.push(seg(project(Aout-0.35,b,Cout),project(Aout+0.45,b,Cout)));
  if(labelledB.includes(b)) tickLabels.push([m[0]-65,m[1]+111,String(b)]);
});
ticksC.forEach(c=>{
  gridSegs.push(seg(project(Amax,Bmin,c),project(Amin,Bmin,c)));
  gridSegs.push(seg(project(Amin,Bmin,c),project(Amin,Bmax+0.4,c)));
  const m=project(Aout,Bmin,c);
  blackSegs.push(seg(project(Aout-0.2,Bmin,c),project(Aout+0.6,Bmin,c)));
  if(labelledC.includes(c)) tickLabels.push([m[0]-123,m[1]+34,String(c)]);
});
blackSegs.push(seg(project(Amin,Bout,Cout),project(Aout,Bout,Cout)));
blackSegs.push(seg(project(Aout,Bmin,Cout),project(Aout,Bout,Cout)));
blackSegs.push(seg(project(Aout,Bmin,Cout),project(Aout,Bmin,Cmax+0.1)));

const panes=[
 {color:'#f0f0f0',c:[[Aout,Bmin,Cout],[Aout,Bmin,Cmax+0.1],[Amin,Bmin,Cmax+0.1],[Amin,Bmin,Cout]]},
 {color:'#f8f8f8',c:[[Amin,Bmin,Cout],[Amin,Bmin,Cmax+0.1],[Amin,Bout,Cmax+0.1],[Amin,Bout,Cout]]},
 {color:'#f4f4f4',c:[[Amin,Bmin,Cout],[Aout,Bmin,Cout],[Aout,Bout,Cout],[Amin,Bout,Cout]]}
];

const segSeries=(data,color,width,z)=>({type:'custom',silent:true,clip:false,z,data,
  encode:{x:[0,2],y:[1,3]},
  renderItem:(p,api)=>{const a=api.coord([api.value(0),api.value(1)]),b=api.coord([api.value(2),api.value(3)]);
    return {type:'line',shape:{x1:a[0],y1:a[1],x2:b[0],y2:b[1]},style:{stroke:color,lineWidth:width,lineCap:'butt'}};}});

const textSeries=(data,size,rotate)=>({type:'custom',silent:true,clip:false,z:4,
  data:data.map(d=>[d[0],d[1]]),encode:{x:0,y:1},
  renderItem:(p,api)=>{const d=data[p.dataIndex],c=api.coord([d[0],d[1]]);
    return {type:'text',x:c[0],y:c[1],rotation:rotate*Math.PI/180,
      style:{text:d[2],font:size+'px "DejaVu Sans"',fill:'#111',align:'center',verticalAlign:'middle'}};}});

const dot=(name,list,color,z)=>({name,type:'scatter',data:pts(list),symbol:'circle',symbolSize:20,z,
  silent:true,clip:false,itemStyle:{color,opacity:0.74}});

const option={animation:false,backgroundColor:'#fff',
 grid:{left:0,right:0,top:0,bottom:0},
 xAxis:{type:'value',min:0,max:1920,show:false},
 yAxis:{type:'value',min:0,max:1675,inverse:true,show:false},
 legend:{orient:'vertical',left:1309,top:20,padding:[25,104,22,70],itemWidth:19,itemHeight:19,itemGap:28,icon:'circle',
  backgroundColor:'rgba(255,255,255,0.82)',borderColor:'#d0d0d0',borderWidth:4,borderRadius:8,
  data:seriesNames,
  formatter:n=>{const p=n.split(' ');return '{gap| }{m|'+p[0]+'}'+(p[1]?'{sup|'+p[1]+'}':'');},
  textStyle:{rich:{gap:{width:90,fontSize:10},m:{fontFamily:'DejaVu Sans',fontSize:58,color:'#111'},
    sup:{fontFamily:'DejaVu Sans',fontSize:34,lineHeight:56,color:'#111',verticalAlign:'top'}}}},
 series:[
  {type:'custom',silent:true,clip:false,z:1,data:panes.map((p,i)=>[i]),
   renderItem:(p,api)=>{const pane=panes[api.value(0)];
     return {type:'polygon',shape:{points:pane.c.map(c=>api.coord(project(c[0],c[1],c[2])))},style:{fill:pane.color}};}},
  segSeries(gridSegs,'#b2b2b2',3.5,2),
  segSeries(blackSegs,'#000',4,3),
  textSeries(tickLabels,56,0),
  textSeries([[50,805,titleC]],57,-87.3),
  textSeries([[540,1537,titleB]],57,-29),
  textSeries([[1678,1497,titleA]],57,32),
  dot('AcrB L118M',acrbL118M,'#008000',5),
  dot('AcrB',acrb,'#ff0000',6),
  dot('AcrB S966A',acrbS966A,'#0000ff',7)
 ]};
echarts.init(document.getElementById('c'),null,{renderer:'canvas'}).setOption(option);
</script></body></html>
